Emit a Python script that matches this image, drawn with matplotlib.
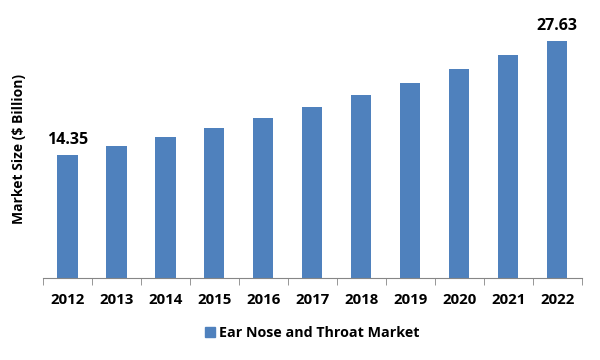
import numpy as np
import matplotlib.pyplot as plt
from matplotlib.patches import Patch

plt.rcParams['font.family'] = ['Open Sans', 'DejaVu Sans']

years = ['2012', '2013', '2014', '2015', '2016', '2017', '2018', '2019', '2020', '2021', '2022']
market = [14.35, 15.39, 16.43, 17.47, 18.63, 19.90, 21.29, 22.68, 24.30, 25.92, 27.63]
labels = {0: '14.35', 10: '27.63'}

bar_color = '#4F81BD'

fig = plt.figure(figsize=(6, 3.6), dpi=100)
ax = fig.add_axes([0.0717, 0.228, 0.898, 0.716])

x = np.arange(len(years))
ax.bar(x, market, width=0.41, color=bar_color)

for i, txt in labels.items():
    ax.text(x[i], market[i] + 0.8, txt, ha='center', va='bottom',
            fontsize=11.5, fontweight='bold', color='black')

ax.set_xlim(-0.5, len(years) - 0.5)
ax.set_ylim(0, 30)

ax.set_xticks(x)
ax.set_xticklabels(years, fontsize=10.8, fontweight='bold')
ax.set_xticks(np.arange(-0.5, len(years)), minor=True)
ax.tick_params(axis='x', which='major', length=0, pad=11)
ax.tick_params(axis='x', which='minor', length=5, color='#868686', direction='out')
ax.set_yticks([])

for side in ['top', 'right', 'left']:
    ax.spines[side].set_visible(False)
ax.spines['bottom'].set_color('#868686')

ax.set_ylabel('Market Size ($ Billion)', fontsize=10, fontweight='bold', labelpad=12)

handle = Patch(color=bar_color, label='Ear Nose and Throat Market')
fig.legend(handles=[handle], loc='center', bbox_to_anchor=(0.52, 0.075), frameon=False,
           prop={'size': 10.3, 'weight': 'bold'}, handlelength=0.7, handleheight=0.7,
           handletextpad=0.3)

fig.savefig('out.png', dpi=100)
